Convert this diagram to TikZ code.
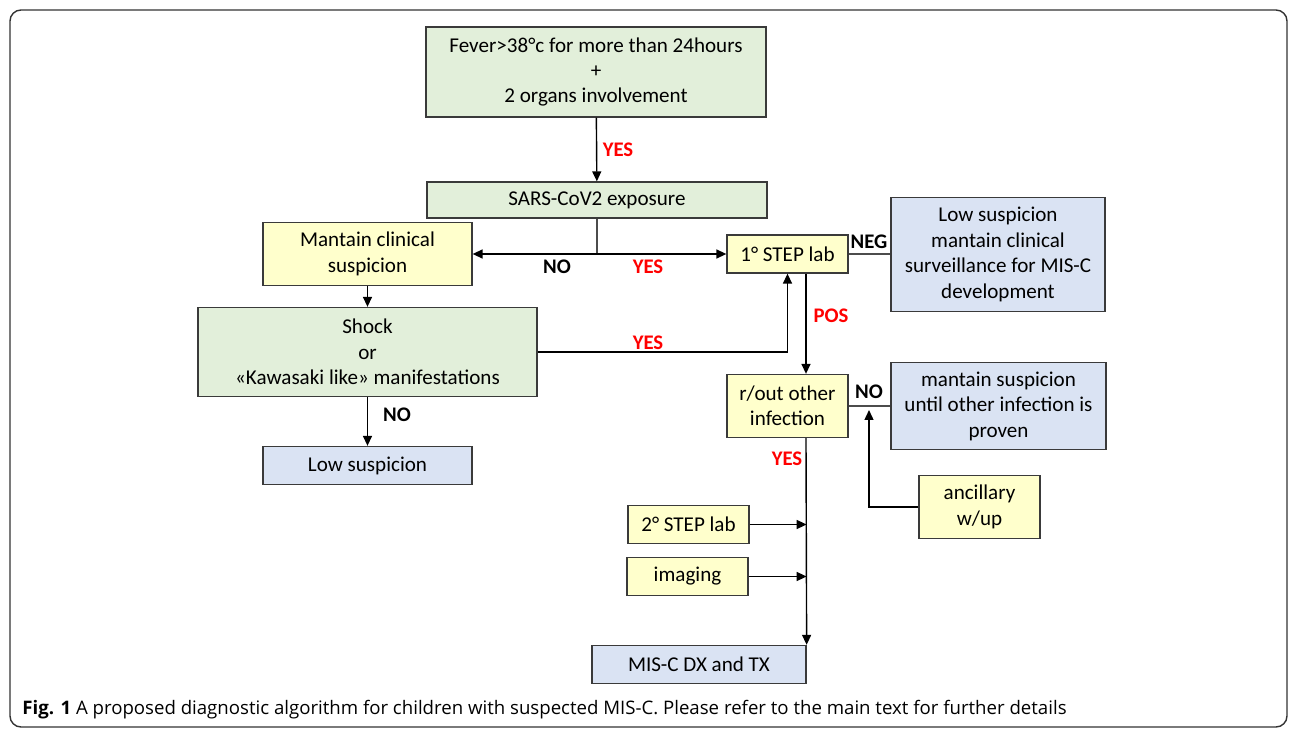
\documentclass[tikz,border=0pt]{standalone}
\usepackage{fontspec}
\setmainfont{Carlito}
\newfontfamily\capfont{Open Sans}
\usetikzlibrary{arrows.meta,shapes}

\definecolor{boxgreen}{HTML}{E2EFDA}
\definecolor{boxyellow}{HTML}{FFFFCC}
\definecolor{boxblue}{HTML}{DAE3F3}
\definecolor{boxline}{HTML}{3A3A3A}

\tikzset{
	box/.style={draw=boxline, line width=0.75pt, align=center, inner sep=2pt,
		font=\fontsize{12}{14.5}\selectfont},
	greenbox/.style={box, fill=boxgreen},
	yellowbox/.style={box, fill=boxyellow},
	bluebox/.style={box, fill=boxblue},
	arr/.style={-{Triangle[length=0.2cm,width=0.18cm]}, line width=0.8pt},
	link/.style={line width=0.75pt, draw=black!70},
	lbl/.style={font=\fontsize{11.8}{13}\selectfont\bfseries},
	redlbl/.style={lbl, text=red}
}

\begin{document}
\begin{tikzpicture}[x=0.02cm, y=-0.02cm]
			\useasboundingbox (0, 0) rectangle (1296, 733);
			\draw[line width=0.8pt, draw=black!80, rounded corners=0.22cm] (10, 10) rectangle (1287, 727);
			% boxes
			\node[greenbox, minimum width=6.8cm, minimum height=1.8cm] (fever) at (596, 72)
				{Fever>38°c for more than 24hours\\+\\2 organs involvement};
			\node[greenbox, minimum width=6.8cm, minimum height=0.72cm] (sars) at (597, 200) {SARS-CoV2 exposure};
			\node[yellowbox, minimum width=4.18cm, minimum height=1.26cm] (mantain) at (367.5, 254)
				{Mantain clinical\\suspicion};
			\node[yellowbox, minimum width=2.42cm, minimum height=0.76cm] (step1) at (787.5, 254) {1° STEP lab};
			\node[bluebox, minimum width=4.28cm, minimum height=2.28cm] (negsusp) at (998, 254.5)
				{Low suspicion\\mantain clinical\\surveillance for MIS-C\\development};
			\node[greenbox, minimum width=6.78cm, minimum height=1.78cm] (shock) at (367.5, 352)
				{Shock\\or\\«Kawasaki like» manifestations};
			\node[yellowbox, minimum width=2.42cm, minimum height=1.26cm] (rout) at (787.5, 406)
				{r/out other\\infection};
			\node[bluebox, minimum width=4.3cm, minimum height=1.74cm] (keepsusp) at (998.5, 406)
				{mantain suspicion\\until other infection is\\proven};
			\node[yellowbox, minimum width=2.42cm, minimum height=1.26cm] (ancillary) at (979.5, 507)
				{ancillary\\w/up};
			\node[bluebox, minimum width=4.18cm, minimum height=0.76cm] (lowsusp) at (367.5, 465.5) {Low suspicion};
			\node[yellowbox, minimum width=2.42cm, minimum height=0.76cm] (step2) at (688.5, 524.5) {2° STEP lab};
			\node[yellowbox, minimum width=2.42cm, minimum height=0.76cm] (imaging) at (687.5, 576.5) {imaging};
			\node[bluebox, minimum width=4.28cm, minimum height=0.76cm] (misc) at (699, 664.5) {MIS-C DX and TX};
			% connectors
			\coordinate (ancup) at (869, 410);
			\draw[arr] (fever) -- (sars);
			\draw[link] (sars.south) -- (sars.south |- step1.west);
			\draw[arr, {Triangle[length=0.2cm,width=0.18cm]}-{Triangle[length=0.2cm,width=0.18cm]}] (mantain.east |- step1.west) -- (step1.west);
			\draw[link] (step1.east) -- (negsusp.west |- step1.east);
			\draw[arr] (mantain) -- (shock);
			\draw[arr] (shock.east) -| (step1.south);
			\draw[arr] ([xshift=0.37cm]step1.south) -- ([xshift=0.37cm]rout.north);
			\draw[link] (rout.east) -- (keepsusp.west);
			\draw[arr] (ancillary.west) -| (ancup);
			\draw[arr] (shock) -- (lowsusp);
			\draw[arr] ([xshift=0.37cm]rout.south) -- (misc.north east);
			\draw[arr] (step2.east) -- (step2.east -| misc.north east);
			\draw[arr] (imaging.east) -- (imaging.east -| misc.north east);
			% labels
			\node[redlbl] (yes1) at (618, 150) {YES};
			\node[lbl] (no1) at (557, 267) {NO};
			\node[redlbl] (yes2) at (648, 267) {YES};
			\node[lbl] (neg) at (869, 242) {NEG};
			\node[redlbl] (yes3) at (648, 343) {YES};
			\node[redlbl] (pos) at (831, 316) {POS};
			\node[lbl] (no2) at (869, 392) {NO};
			\node[lbl] (no3) at (397, 415) {NO};
			\node[redlbl] (yes4) at (787, 459) {YES};
			% caption
			\node[anchor=west, inner sep=0pt, font=\capfont\fontsize{10.6}{12}\selectfont] (caption) at (22, 710)
				{\textbf{Fig. 1} A proposed diagnostic algorithm for children with suspected MIS-C. Please refer to the main text for further details};
		\end{tikzpicture}
\end{document}
